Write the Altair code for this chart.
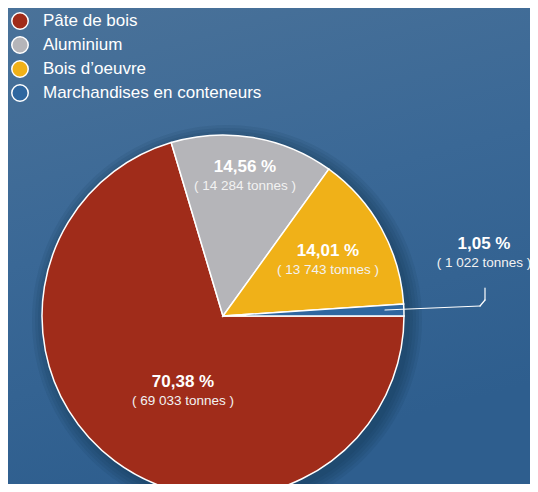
import math
import altair as alt
import pandas as pd

categories = ["Pâte de bois", "Aluminium", "Bois d’oeuvre", "Marchandises en conteneurs"]
percents = [70.38, 14.56, 14.01, 1.05]
tonnes = [69033, 14284, 13743, 1022]
pct_labels = ["70,38 %", "14,56 %", "14,01 %", "1,05 %"]
tonne_labels = ["( 69 033 tonnes )", "( 14 284 tonnes )", "( 13 743 tonnes )", "( 1 022 tonnes )"]
colors = ["#A02C1A", "#B5B5B9", "#F0B118", "#2F67A0"]

df = pd.DataFrame({
    "cat": categories,
    "pct": percents,
    "tonnes": tonnes,
    "plabel": pct_labels,
    "tlabel": tonne_labels,
    "ord": list(range(len(categories))),
})

W, H = 522, 476
CX, CY, R = 215, 308, 181
FONT = "Liberation Sans"

bg = alt.Chart(pd.DataFrame({"a": [0]})).mark_rect(
    fill=alt.Gradient(
        gradient="linear",
        stops=[alt.GradientStop(color="#4A7299", offset=0),
               alt.GradientStop(color="#3A6896", offset=0.5),
               alt.GradientStop(color="#2E5E8E", offset=1)],
        x1=0, y1=0, x2=0.3, y2=1,
    )
).encode(x=alt.value(0), x2=alt.value(W), y=alt.value(0), y2=alt.value(H))

shadows = []
for i, r in enumerate([183, 186, 189, 192, 195]):
    shadows.append(
        alt.Chart(pd.DataFrame({"a": [0]})).mark_arc(
            theta=0, theta2=2 * math.pi, outerRadius=r, fill="#0E2A48", opacity=0.09
        ).encode(x=alt.value(CX + 4), y=alt.value(CY + 4))
    )

pie = alt.Chart(df).mark_arc(
    outerRadius=R, stroke="white", strokeWidth=1.5
).encode(
    theta=alt.Theta("pct:Q", stack=True, scale=alt.Scale(range=[math.pi / 2, math.pi / 2 + 2 * math.pi])),
    color=alt.Color(
        "cat:N",
        scale=alt.Scale(domain=categories, range=colors),
        sort=categories,
        legend=alt.Legend(
            title=None, orient="none", legendX=3, legendY=4,
            symbolType="circle", symbolSize=270, symbolStrokeColor="white",
            symbolStrokeWidth=1.5, symbolOpacity=1,
            labelFont=FONT, labelFontSize=17, labelColor="white",
            labelOffset=14, rowPadding=0, labelLimit=400,
        ),
    ),
    order=alt.Order("ord:Q"),
    x=alt.value(CX), y=alt.value(CY),
)

# label anchor positions (chart pixel coords) per category
label_pos = {
    "Pâte de bois": (175, 383),
    "Aluminium": (237, 168),
    "Bois d’oeuvre": (320, 252),
    "Marchandises en conteneurs": (476, 245),
}

texts = []
for cat, (lx, ly) in label_pos.items():
    base = alt.Chart(df).transform_filter(alt.datum.cat == cat)
    texts.append(base.mark_text(font=FONT, fontSize=17, fontWeight="bold", color="white",
                                baseline="middle", align="center").encode(
        text="plabel:N", x=alt.value(lx), y=alt.value(ly - 9)))
    texts.append(base.mark_text(font=FONT, fontSize=13.5, color="#F2F2F2",
                                baseline="middle", align="center").encode(
        text="tlabel:N", x=alt.value(lx), y=alt.value(ly + 10)))

leader_style = dict(color="white", strokeWidth=1.2, strokeCap="round")
lead1 = alt.Chart(pd.DataFrame({"a": [0]})).mark_rule(**leader_style).encode(
    x=alt.value(377), y=alt.value(302), x2=alt.value(472), y2=alt.value(298))
lead2 = alt.Chart(pd.DataFrame({"a": [0]})).mark_rule(**leader_style).encode(
    x=alt.value(472), y=alt.value(298), x2=alt.value(477), y2=alt.value(292))
lead3 = alt.Chart(pd.DataFrame({"a": [0]})).mark_rule(**leader_style).encode(
    x=alt.value(477), y=alt.value(292), x2=alt.value(477), y2=alt.value(280))

chart = alt.layer(bg, *shadows, pie, *texts, lead1, lead2, lead3).properties(
    width=W, height=H, padding=0, autosize=alt.AutoSizeParams(type="none"),
    background="#3A6896",
).configure_view(stroke=None)

chart.save("out.html", embed_options={"renderer": "svg", "actions": False})
